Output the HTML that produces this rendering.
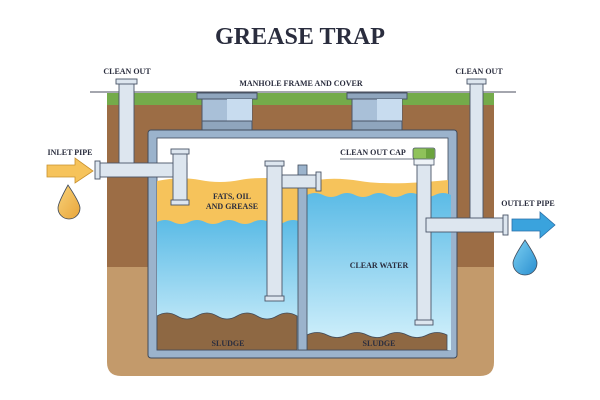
<!DOCTYPE html>
<html><head><meta charset="utf-8"><style>
html,body{margin:0;padding:0;background:#fff;}
svg{display:block;}
text{font-family:"Liberation Serif",serif;font-weight:bold;fill:#2a2d3e;}
</style></head><body>
<svg width="600" height="400" viewBox="0 0 600 400" xmlns="http://www.w3.org/2000/svg">
<defs>
<linearGradient id="w" x1="0" y1="0" x2="0" y2="1"><stop offset="0" stop-color="#5bbbe6"/><stop offset="1" stop-color="#d6f2fc"/></linearGradient>
<linearGradient id="dy" x1="0" y1="0" x2="1" y2="1"><stop offset="0" stop-color="#f7d27a"/><stop offset="1" stop-color="#e9a53a"/></linearGradient>
<linearGradient id="db" x1="0" y1="0" x2="1" y2="1"><stop offset="0" stop-color="#7dd0f2"/><stop offset="1" stop-color="#2a8fd0"/></linearGradient>
</defs>
<text x="300" y="44" text-anchor="middle" font-size="24" fill="#2a2d45" textLength="170" lengthAdjust="spacingAndGlyphs">GREASE TRAP</text>
<!-- soil -->
<path d="M107 104 H494 V362 Q494 376 480 376 H121 Q107 376 107 362 Z" fill="#c39a6b"/>
<rect x="107" y="104" width="387" height="163" fill="#9c6d45"/>
<rect x="107" y="93" width="387" height="12" fill="#74ab4a"/>
<line x1="90" y1="92" x2="516" y2="92" stroke="#4a4e5c" stroke-width="1"/>
<!-- manholes -->
<g stroke="#4a5568" stroke-width="1">
<rect x="197" y="93" width="60" height="6" fill="#8fa5bd"/>
<rect x="202" y="99" width="50" height="22" fill="#a9c0d8"/>
<rect x="227" y="99" width="25" height="22" fill="#c8dcef" stroke="none"/>
<rect x="202" y="121" width="50" height="9" fill="#8fa5bd"/>
<rect x="347" y="93" width="60" height="6" fill="#8fa5bd"/>
<rect x="352" y="99" width="50" height="22" fill="#a9c0d8"/>
<rect x="377" y="99" width="25" height="22" fill="#c8dcef" stroke="none"/>
<rect x="352" y="121" width="50" height="9" fill="#8fa5bd"/>
</g>
<!-- tank -->
<rect x="148" y="130" width="309" height="228" rx="3" fill="#9bb3cc" stroke="#3f4a5a" stroke-width="1"/>
<rect x="157" y="138" width="291" height="212" fill="#fff" stroke="#3f4a5a" stroke-width="0.8"/>
<!-- left chamber -->
<path d="M157 181 Q180 176 200 180 T240 180 T298 180 V350 H157 Z" fill="#f6c35b"/>
<path d="M157 222 q8 -4 16 0 t16 0 t16 0 t16 0 t16 0 t16 0 t16 0 t16 0 t16 0 V350 H157 Z" fill="url(#w)"/>
<path d="M157 316 q10 -6 20 0 t20 0 t20 0 t20 0 t20 0 t20 0 t20 0 V350 H157 Z" fill="#8e6843" stroke="#3f4a5a" stroke-width="0.8"/>
<!-- right chamber -->
<path d="M307 182 Q330 176 360 181 T448 180 V350 H307 Z" fill="#f6c35b"/>
<path d="M307 195 q8 -4 16 0 t16 0 t16 0 t16 0 t16 0 t16 0 t16 0 t16 0 t16 0 V350 H307 Z" fill="url(#w)"/>
<path d="M307 335 q10 -5 20 0 t20 0 t20 0 t20 0 t20 0 t20 0 t20 0 V350 H307 Z" fill="#8e6843" stroke="#3f4a5a" stroke-width="0.8"/>
<!-- divider -->
<rect x="298" y="165" width="9" height="185" fill="#9bb3cc" stroke="#3f4a5a" stroke-width="0.8"/>
<!-- pipes -->
<g fill="#dde6ef" stroke="#4a5568" stroke-width="0.9">
<rect x="119" y="82" width="15" height="82"/>
<rect x="116" y="79" width="21" height="5"/>
<rect x="98" y="163" width="89" height="14"/>
<rect x="95" y="161" width="5" height="18"/>
<rect x="173" y="152" width="14" height="51"/>
<rect x="171" y="149" width="18" height="5"/>
<rect x="171" y="200" width="18" height="5"/>
<rect x="267" y="164" width="15" height="134"/>
<rect x="265" y="161" width="19" height="5"/>
<rect x="265" y="296" width="19" height="5"/>
<rect x="282" y="175" width="36" height="13"/>
<rect x="316" y="172" width="5" height="19"/>
<rect x="470" y="82" width="13" height="150"/>
<rect x="467" y="79" width="19" height="5"/>
<rect x="417" y="164" width="14" height="158"/>
<rect x="415" y="320" width="18" height="5"/>
<rect x="426" y="218" width="79" height="14"/>
<rect x="503" y="215" width="5" height="20"/>
</g>
<rect x="414" y="158" width="20" height="7" fill="#eef3f7" stroke="#4a5568" stroke-width="0.8"/>
<rect x="413" y="148" width="22" height="11" rx="2" fill="#8fc25a" stroke="#4a5568" stroke-width="0.8"/>
<rect x="426" y="149" width="8" height="9" fill="#6aa33d"/>
<!-- arrows -->
<path d="M47 165 H75 V158 L93 171 L75 183 V177 H47 Z" fill="#f6c35b" stroke="#c8912e" stroke-width="0.8"/>
<path d="M68 185 Q58 203 58 208 A11 11 0 0 0 80 208 Q80 203 68 185 Z" fill="url(#dy)" stroke="#3f4a5a" stroke-width="0.8"/>
<path d="M512 219 H540 V212 L555 225 L540 238 V231 H512 Z" fill="#3aa3dd" stroke="#2a6fa8" stroke-width="0.8"/>
<path d="M525 240 Q513 258 513 263 A12 12 0 0 0 537 263 Q537 258 525 240 Z" fill="url(#db)" stroke="#3f4a5a" stroke-width="0.8"/>
<!-- labels -->
<g font-size="8">
<text x="127" y="74" text-anchor="middle">CLEAN OUT</text>
<text x="479" y="74" text-anchor="middle">CLEAN OUT</text>
<text x="301" y="86" text-anchor="middle">MANHOLE FRAME AND COVER</text>
<text x="70" y="155" text-anchor="middle">INLET PIPE</text>
<text x="373" y="155" text-anchor="middle">CLEAN OUT CAP</text>
<text x="528" y="206" text-anchor="middle">OUTLET PIPE</text>
<text x="232" y="199" text-anchor="middle">FATS, OIL</text>
<text x="232" y="209" text-anchor="middle">AND GREASE</text>
<text x="379" y="268" text-anchor="middle">CLEAR WATER</text>
<text x="228" y="346" text-anchor="middle" fill="#f3eadf">SLUDGE</text>
<text x="379" y="346" text-anchor="middle" fill="#f3eadf">SLUDGE</text>
</g>
<line x1="340" y1="159" x2="414" y2="159" stroke="#3f4a5a" stroke-width="0.8"/>
</svg>
</body></html>
